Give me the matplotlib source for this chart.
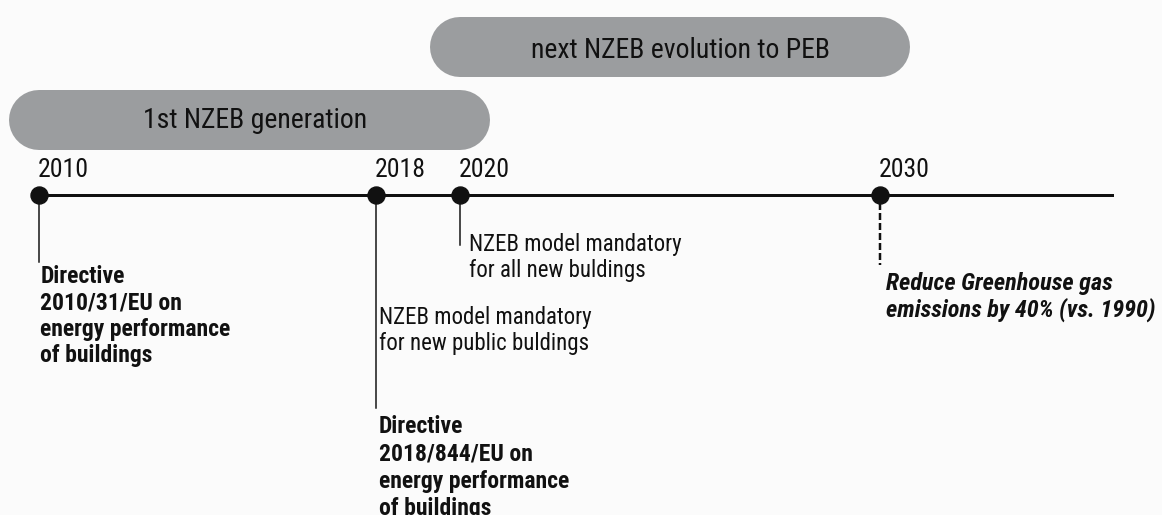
import matplotlib
matplotlib.use("Agg")
import matplotlib.pyplot as plt

plt.rcParams["font.family"] = ["Roboto Condensed", "DejaVu Sans"]

# data
years = [2010, 2018, 2020, 2030]
year_labels = ["2010", "2018", "2020", "2030"]
period_names = ["1st NZEB generation", "next NZEB evolution to PEB"]
period_start = [2010, 2020]
period_end = [2020, 2030]
timeline_end = 2035.5

note_years = [2010, 2018, 2018, 2020, 2030]
note_texts = [
    "Directive\n2010/31/EU on\nenergy performance\nof buildings",
    "NZEB model mandatory\nfor new public buldings",
    "Directive\n2018/844/EU on\nenergy performance\nof buildings",
    "NZEB model mandatory\nfor all new buldings",
    "Reduce Greenhouse gas\nemissions by 40% (vs. 1990)",
]
note_weight = ["bold", "normal", "bold", "normal", "bold"]
note_style = ["normal", "normal", "normal", "normal", "italic"]

# layout (pixels, y measured from top)
W, H = 1162, 515
px = 0.72  # points per pixel at dpi 100
line_y = 195
pill_y = [120, 47]
pill_base = [128, 58]
pill_dx = [6, 10]
stem_end = {2010: 262, 2018: 408, 2020: 245, 2030: 265}
note_top = [265, 306, 415, 233, 272]
note_dx = [1, 3, 3, 9, 6]
note_size = [17, 16.5, 17, 16.5, 17.5]
note_spacing = [1.19, 1.16, 1.25, 1.16, 1.16]

fig = plt.figure(figsize=(W / 100, H / 100), dpi=100)
fig.patch.set_facecolor("#fbfbfb")
ax = fig.add_axes([0, 0, 1, 1])
ax.set_facecolor("#fbfbfb")
ax.set_xlim(2010 - 39.2 / 42.06, 2010 + (W - 39.2) / 42.06)
ax.set_ylim(H, 0)
ax.axis("off")

# period pills
for name, s, e, yc, yb, dx in zip(period_names, period_start, period_end,
                                  pill_y, pill_base, pill_dx):
    ax.plot([s, e], [yc, yc], color="#9b9d9f", lw=60 * px,
            solid_capstyle="round", zorder=1)
    ax.annotate(name, xy=((s + e) / 2, yb), xytext=(dx * px, 0),
                textcoords="offset points", ha="center", va="baseline",
                fontsize=20, color="#111111", zorder=2)

# main timeline
ax.plot([years[0], timeline_end], [line_y, line_y], color="#111111",
        lw=3 * px, zorder=3)

# stems
for yr in years:
    if yr == 2030:
        ax.plot([yr, yr], [line_y + 8, stem_end[yr]], color="#111111",
                lw=2.5 * px, dashes=(2.8, 1.2), zorder=2)
    else:
        ax.plot([yr, yr], [line_y, stem_end[yr]], color="#111111",
                lw=1.5 * px, zorder=2)

ax.plot(years, [line_y] * len(years), "o", color="#111111",
        ms=17 * px, zorder=4)

# year labels
for yr, lab in zip(years, year_labels):
    ax.annotate(lab, xy=(yr, 177), xytext=(-1, 0), textcoords="offset points",
                ha="left", va="baseline", fontsize=18.5, color="#111111")

# notes
for yr, txt, w, st, top, dx, fs, ls in zip(note_years, note_texts, note_weight,
                                           note_style, note_top, note_dx,
                                           note_size, note_spacing):
    ax.annotate(txt, xy=(yr, top), xytext=(dx * px, 0),
                textcoords="offset points", ha="left", va="top",
                fontsize=fs, fontweight=w, fontstyle=st,
                color="#111111", linespacing=ls, annotation_clip=False)

fig.savefig("out.png", dpi=100, facecolor=fig.get_facecolor())
